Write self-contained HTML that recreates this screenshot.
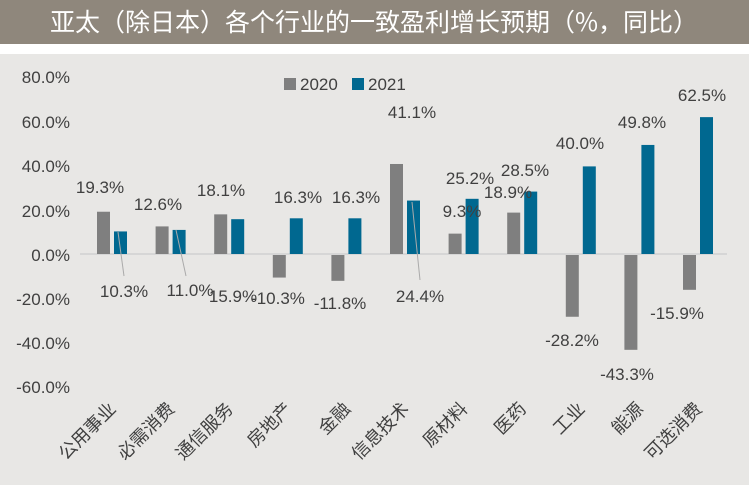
<!DOCTYPE html>
<html><head><meta charset="utf-8"><style>
body{margin:0;width:749px;height:485px;overflow:hidden;background:#fff;font-family:"Liberation Sans","Noto Sans CJK SC",sans-serif}
</style></head><body>
<svg width="749" height="485" xmlns="http://www.w3.org/2000/svg" font-family="Liberation Sans, Noto Sans CJK SC, sans-serif">
<rect x="0" y="0" width="749" height="44" fill="#8f877c"/>
<text x="374" y="31" text-anchor="middle" fill="#fff" font-size="25" font-family="Noto Sans CJK SC, sans-serif">亚太（除日本）各个行业的一致盈利增长预期（%，同比）</text>
<rect x="0" y="54" width="749" height="431" fill="#e8e7e5"/>
<g font-size="17" fill="#404040" text-anchor="end">
<text x="70" y="83">80.0%</text><text x="70" y="128">60.0%</text><text x="70" y="172">40.0%</text><text x="70" y="217">20.0%</text><text x="70" y="261">0.0%</text><text x="70" y="305">-20.0%</text><text x="70" y="349">-40.0%</text><text x="70" y="393">-60.0%</text>
</g>
<line x1="80" y1="254" x2="727" y2="254" stroke="#d6d6d6" stroke-width="2"/>
<rect x="284" y="78" width="12" height="12" fill="#7f7f7f"/><text x="300" y="90" font-size="17" fill="#404040">2020</text>
<rect x="352" y="78" width="12" height="12" fill="#006890"/><text x="368" y="90" font-size="17" fill="#404040">2021</text>
<g id="bars"></g>
<g font-size="18" fill="#404040" text-anchor="end" font-family="Noto Sans CJK SC, sans-serif" id="cats"></g>
<line x1="118" y1="232" x2="124" y2="276" stroke="#aaa" stroke-width="1"/>
<line x1="176" y1="230" x2="186" y2="276" stroke="#aaa" stroke-width="1"/>
<line x1="412" y1="202" x2="420" y2="280" stroke="#aaa" stroke-width="1"/>
<g font-size="17" fill="#404040" text-anchor="middle">
<text x="100" y="193">19.3%</text><text x="124" y="297">10.3%</text>
<text x="158" y="210">12.6%</text><text x="190" y="296">11.0%</text>
<text x="221" y="196">18.1%</text><text x="233" y="302">15.9%</text>
<text x="298" y="203">16.3%</text><text x="278" y="304">-10.3%</text>
<text x="356" y="203">16.3%</text><text x="340" y="309">-11.8%</text>
<text x="412" y="118">41.1%</text><text x="420" y="302">24.4%</text>
<text x="462" y="217">9.3%</text><text x="470" y="184">25.2%</text>
<text x="525" y="176">28.5%</text><text x="508" y="198">18.9%</text>
<text x="580" y="149">40.0%</text><text x="572" y="346">-28.2%</text>
<text x="642" y="128">49.8%</text><text x="627" y="380">-43.3%</text>
<text x="702" y="101">62.5%</text><text x="677" y="319">-15.9%</text>
</g>
</svg>
<script>
var a=[19.3,12.6,18.1,-10.3,-11.8,41.1,9.3,18.9,-28.2,-43.3,-15.9],b=[10.3,11.0,15.9,16.3,16.3,24.4,25.2,28.5,40.0,49.8,62.5];
var n=["公用事业","必需消费","通信服务","房地产","金融","信息技术","原材料","医药","工业","能源","可选消费"];
var s="http://www.w3.org/2000/svg",k=2.19,z=254;
function r(x,v,c){var e=document.createElementNS(s,"rect");var h=Math.abs(v)*k;e.setAttribute("x",x);e.setAttribute("width",13);e.setAttribute("y",v>0?z-h:z+1);e.setAttribute("height",h);e.setAttribute("fill",c);document.getElementById("bars").appendChild(e);}
for(var i=0;i<11;i++){var g=97+i*58.6;r(g,a[i],"#7f7f7f");r(g+17,b[i],"#006890");
var t=document.createElementNS(s,"text");var cx=g+20,cy=410;t.setAttribute("transform","translate("+cx+","+cy+") rotate(-45)");t.textContent=n[i];document.getElementById("cats").appendChild(t);}
</script>
</body></html>
